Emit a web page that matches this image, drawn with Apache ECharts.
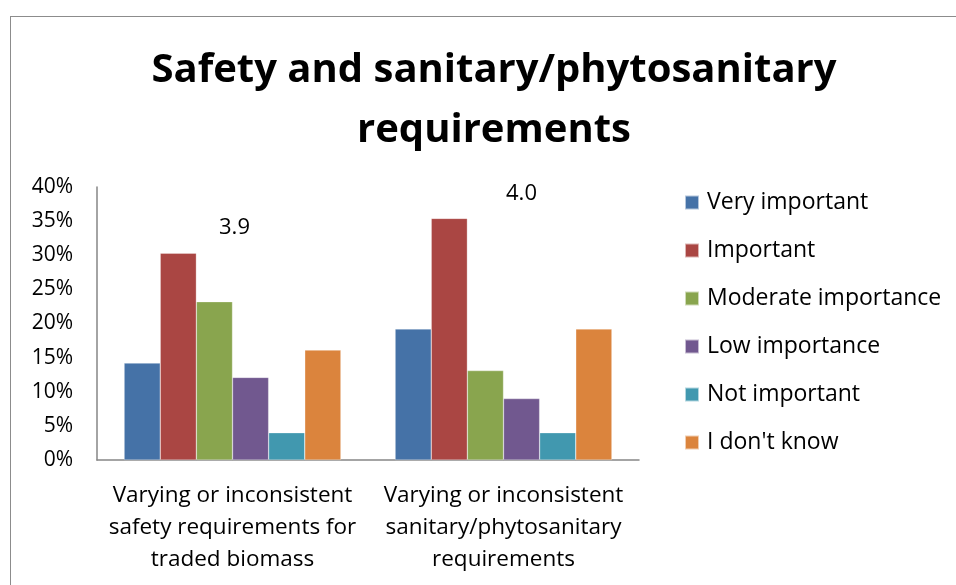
<!DOCTYPE html>
<html>
<head>
<meta charset="utf-8">
<script src="https://cdn.jsdelivr.net/npm/echarts@6/dist/echarts.min.js"></script>
<style>
  html, body { margin: 0; padding: 0; background: #fff; }
  #wrap { position: relative; width: 956px; height: 585px; overflow: hidden; }
  #frame {
    position: absolute; left: 10px; top: 16px; width: 1200px; height: 1000px;
    border-left: 1.5px solid #8c8c8c; border-top: 1.5px solid #8c8c8c;
  }
  #chart { position: absolute; left: 0; top: 0; width: 956px; height: 585px; }
</style>
</head>
<body>
<div id="wrap">
  <div id="frame"></div>
  <div id="chart"></div>
</div>
<script>
// categories (line breaks as in the original chart)
var categories = [
  "Varying or inconsistent\nsafety requirements for\ntraded biomass",
  "Varying or inconsistent\nsanitary/phytosanitary\nrequirements"
];
var seriesNames = ["Very important", "Important", "Moderate importance", "Low importance", "Not important", "I don't know"];
var veryImportant = [14.2, 19.2];
var important = [30.3, 35.4];
var moderate = [23.2, 13.1];
var lowImportance = [12.1, 9.0];
var notImportant = [4.0, 4.0];
var dontKnow = [16.1, 19.2];
// mean score shown above each group, and the height (%) where it sits
var meanScores = [3.9, 4.0];
var meanScoreHeights = [34.0, 39.0];
var yTicks = [0, 5, 10, 15, 20, 25, 30, 35, 40];

var colors = ["#4572A7", "#AA4643", "#89A54E", "#71588F", "#4198AF", "#DB843D"];
var values = [veryImportant, important, moderate, lowImportance, notImportant, dontKnow];
var font = "Open Sans";

var chart = echarts.init(document.getElementById("chart"));

var series = seriesNames.map(function (name, i) {
  return {
    name: name,
    type: "bar",
    data: values[i],
    barGap: "0%",
    barCategoryGap: "20%",
    itemStyle: { color: colors[i], borderColor: "rgba(255,255,255,0.6)", borderWidth: 0.5 },
    emphasis: { disabled: true }
  };
});

series.push({
  name: "mean",
  type: "scatter",
  symbolSize: 0,
  silent: true,
  itemStyle: { opacity: 1 },
  data: meanScores.map(function (s, i) {
    return {
      value: [i, meanScoreHeights[i]],
      label: { offset: [i === 0 ? 2 : 18, 0] }
    };
  }),
  label: {
    show: true,
    position: "inside",
    color: "#000",
    opacity: 1,
    fontFamily: font,
    fontSize: 22,
    formatter: function (p) { return meanScores[p.dataIndex].toFixed(1); }
  }
});

chart.setOption({
  animation: false,
  title: {
    text: "Safety and sanitary/phytosanitary\nrequirements",
    left: 489,
    textAlign: "center",
    top: 36,
    textStyle: {
      fontFamily: font,
      fontWeight: "bold",
      fontSize: 40,
      lineHeight: 60,
      color: "#000"
    }
  },
  legend: {
    data: seriesNames,
    orient: "vertical",
    left: 679,
    top: 186,
    itemWidth: 14,
    itemHeight: 14,
    itemGap: 25,
    icon: "rect",
    selectedMode: false,
    textStyle: { fontFamily: font, fontSize: 23, color: "#000", padding: [0, 0, 0, 3] }
  },
  grid: { left: 97, right: 317, top: 187, bottom: 125, containLabel: false },
  xAxis: {
    type: "category",
    data: categories,
    axisLine: { lineStyle: { color: "#868686", width: 1.5 } },
    axisTick: { show: false },
    axisLabel: {
      interval: 0,
      margin: 20,
      fontFamily: font,
      fontSize: 22.5,
      lineHeight: 32,
      color: "#000"
    }
  },
  yAxis: {
    type: "value",
    min: 0,
    max: 40,
    interval: 5,
    axisLine: { show: true, lineStyle: { color: "#868686", width: 1.5 } },
    axisTick: { show: false },
    splitLine: { show: false },
    axisLabel: {
      margin: 24,
      fontFamily: font,
      fontSize: 21,
      color: "#000",
      formatter: function (v) { return yTicks.indexOf(v) >= 0 ? v + "%" : ""; }
    }
  },
  series: series
});
</script>
</body>
</html>
